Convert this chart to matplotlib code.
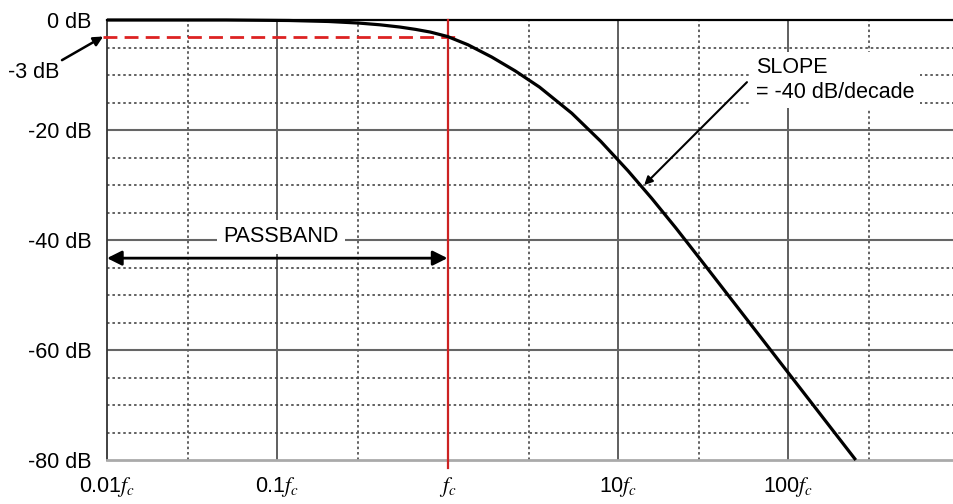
import matplotlib
matplotlib.use("Agg")
import matplotlib.pyplot as plt

plt.rcParams['font.family'] = ['Liberation Sans', 'DejaVu Sans']
plt.rcParams['mathtext.fontset'] = 'stix'

# Response curve (frequency in units of fc, gain in dB)
freq = [0.01, 0.05, 0.117, 0.2, 0.302, 0.40, 0.525, 0.65, 0.794, 1.0,
        1.318, 1.82, 2.5, 3.47, 5.37, 7.94, 11.48, 15.85, 21.88, 31.6,
        100.0, 250.0]
gain = [0.0, 0.0, -0.09, -0.27, -0.56, -0.87, -1.28, -1.71, -2.2, -3.0,
        -4.5, -6.74, -9.26, -12.2, -16.95, -22.05, -27.41, -32.45, -37.77,
        -44.09, -64.09, -80.0]

x_major = [0.01, 0.1, 1, 10, 100]
x_minor = [0.03, 0.3, 3, 30, 300]
x_labels = ['0.01$f_c$', '0.1$f_c$', '$f_c$', '10$f_c$', '100$f_c$']
y_major = [0, -20, -40, -60, -80]
y_minor = [-5, -10, -15, -25, -30, -35, -45, -50, -55, -65, -70, -75]
y_labels = ['0 dB', '-20 dB', '-40 dB', '-60 dB', '-80 dB']

cutoff_db = -3.0
passband_db = -43.3

fig = plt.figure(figsize=(9.54, 5.04), dpi=100)
ax = fig.add_axes([107/954, 1-460/504, 1-107/954, 440/504])
ax.set_xscale('log')
ax.set_xlim(0.01, 944)
ax.set_ylim(-80, 0)

# grid
dots = dict(color='#555555', lw=1.3, dashes=(1.4, 1.6), zorder=1)
for v in x_minor:
    ax.axvline(v, **dots)
for v in y_minor:
    ax.axhline(v, **dots)
for v in x_major[1:]:
    ax.axvline(v, color='#444444', lw=1.2, zorder=1)
for v in y_major[1:-1]:
    ax.axhline(v, color='#666666', lw=1.5, zorder=1)

ax.spines['right'].set_visible(False)
ax.spines['top'].set_color('black')
ax.spines['top'].set_linewidth(1.6)
ax.spines['left'].set_color('#333333')
ax.spines['left'].set_linewidth(1.3)
ax.spines['bottom'].set_color('#aaaaaa')
ax.spines['bottom'].set_linewidth(2.0)

ax.set_xticks(x_major)
ax.set_xticklabels(x_labels)
ax.set_xticks([], minor=True)
ax.set_yticks(y_major)
ax.set_yticklabels(y_labels)
ax.tick_params(length=0, labelsize=15.5)
ax.tick_params(axis='x', pad=11)
ax.tick_params(axis='y', pad=11)

# red cutoff markers
ax.plot([1, 1], [0, -81.5], color='#cc2222', lw=1.6, zorder=3, clip_on=False)
ax.plot([0.0095, 1.15], [cutoff_db, cutoff_db], color='#dd2222', lw=2.0,
        dashes=(5, 2.6), zorder=3, clip_on=False)

# curve
ax.plot(freq, gain, color='black', lw=2.3, zorder=5, clip_on=False,
        solid_capstyle='butt', solid_joinstyle='round')

# annotations
ax.annotate('', xy=(0.0095, cutoff_db), xytext=(0.00544, -7.3),
            arrowprops=dict(arrowstyle='-|>', lw=1.8, color='black',
                            mutation_scale=14, shrinkA=0, shrinkB=0),
            annotation_clip=False, zorder=6)
ax.text(0.00262, -9.6, '-3 dB', fontsize=15.5, ha='left', va='center')

ax.annotate('', xy=(0.01, passband_db), xytext=(1, passband_db),
            arrowprops=dict(arrowstyle='<|-|>', lw=2.0, color='black',
                            mutation_scale=22, shrinkA=0, shrinkB=0),
            annotation_clip=False, zorder=6)
ax.text(0.105, -39.4, 'PASSBAND', fontsize=15.5, ha='center', va='center',
        zorder=4, bbox=dict(boxstyle='square,pad=0.3', fc='white', ec='none'))

ax.annotate('', xy=(14.3, -30), xytext=(57.4, -11.3),
            arrowprops=dict(arrowstyle='-|>', lw=1.5, color='black',
                            mutation_scale=12, shrinkA=0, shrinkB=0),
            zorder=6)
ax.text(64.9, -10.9, 'SLOPE\n= -40 dB/decade', fontsize=15.5, ha='left',
        va='center', linespacing=1.25, zorder=4,
        bbox=dict(boxstyle='square,pad=0.25', fc='white', ec='none'))

fig.savefig('out.png', dpi=100)
